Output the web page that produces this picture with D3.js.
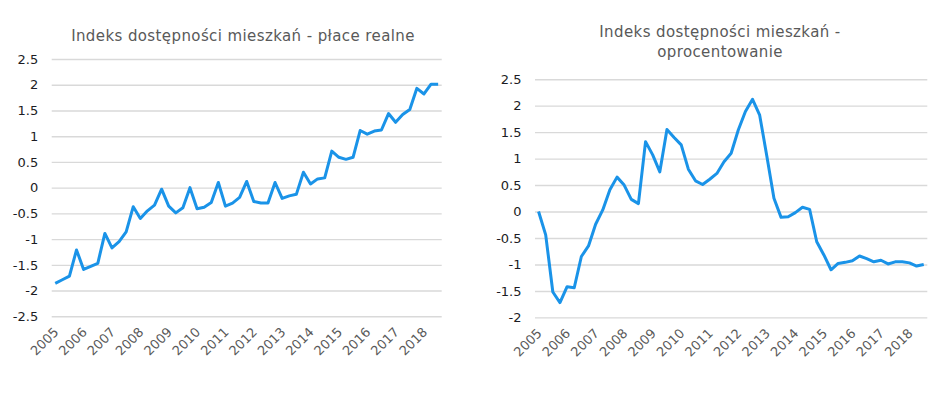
<!DOCTYPE html>
<html>
<head>
<meta charset="utf-8">
<script src="https://cdn.jsdelivr.net/npm/d3@7"></script>
<style>
  body { margin: 0; background: #fff; }
  text { font-family: "DejaVu Sans", Verdana, sans-serif; }
  .grid line { stroke: #d9d9d9; stroke-width: 1.4; }
  .ylab text { fill: #1c1c24; font-size: 13px; }
  .xlab text { fill: #595959; font-size: 13px; }
  .title { fill: #595959; font-size: 15px; letter-spacing: 0.4px; }
</style>
</head>
<body>
<script>
// quarterly data, 2005 Q1 - 2018 Q3
const years = ["2005", "2006", "2007", "2008", "2009", "2010", "2011",
    "2012", "2013", "2014", "2015", "2016", "2017", "2018"];
const quarters = ["Q1", "Q2", "Q3", "Q4"];

const placeRealne = [-1.86, -1.79, -1.72, -1.21, -1.59, -1.53, -1.47, -0.89, -1.17, -1.05,
    -0.86, -0.37, -0.60, -0.45, -0.34, -0.03, -0.36, -0.49, -0.39, 0.00,
    -0.41, -0.38, -0.29, 0.10, -0.36, -0.30, -0.19, 0.12, -0.27, -0.30,
    -0.30, 0.10, -0.21, -0.16, -0.13, 0.30, 0.07, 0.17, 0.19, 0.71,
    0.59, 0.55, 0.59, 1.11, 1.04, 1.10, 1.12, 1.44, 1.27, 1.42,
    1.52, 1.93, 1.82, 2.01, 2.01];

const oprocentowanie = [0.00, -0.44, -1.52, -1.72, -1.42, -1.44, -0.85, -0.65, -0.24, 0.03,
    0.41, 0.65, 0.50, 0.23, 0.15, 1.32, 1.07, 0.75, 1.55, 1.40,
    1.26, 0.80, 0.58, 0.51, 0.61, 0.72, 0.94, 1.10, 1.54, 1.89,
    2.12, 1.82, 1.05, 0.25, -0.11, -0.10, -0.02, 0.08, 0.04, -0.57,
    -0.82, -1.10, -0.98, -0.96, -0.93, -0.84, -0.89, -0.95, -0.92, -0.99,
    -0.95, -0.95, -0.97, -1.03, -1.00];

const ticksLeft = [2.5, 2, 1.5, 1, 0.5, 0, -0.5, -1, -1.5, -2, -2.5];
const ticksRight = [2.5, 2, 1.5, 1, 0.5, 0, -0.5, -1, -1.5, -2];

const categories = years.flatMap(y => quarters.map(q => y + " " + q)).slice(0, placeRealne.length);

const svg = d3.select("body").append("svg")
    .attr("width", 949)
    .attr("height", 397);

function drawChart(cfg) {
    const g = svg.append("g");

    const x = d3.scalePoint()
        .domain(categories)
        .range([cfg.left, cfg.right])
        .padding(0.5);

    const y = d3.scaleLinear()
        .domain([cfg.ticks[cfg.ticks.length - 1], cfg.ticks[0]])
        .range([cfg.bottom, cfg.top]);

    // gridlines + value labels
    g.append("g")
        .attr("class", "grid ylab")
        .attr("transform", "translate(" + cfg.left + ",0)")
        .call(d3.axisLeft(y)
            .tickValues(cfg.ticks)
            .tickSize(-(cfg.right - cfg.left))
            .tickPadding(13.5)
            .tickFormat(d => String(d)))
        .call(a => a.select(".domain").remove());

    // year labels, rotated
    const xAxis = g.append("g")
        .attr("class", "xlab")
        .attr("transform", "translate(0," + cfg.bottom + ")")
        .call(d3.axisBottom(x)
            .tickValues(categories.filter(c => c.endsWith("Q1")))
            .tickSize(0)
            .tickFormat(c => c.slice(0, 4)))
        .call(a => a.select(".domain").remove());

    xAxis.selectAll("text")
        .attr("text-anchor", "end")
        .attr("dy", "0.72em")
        .attr("transform", "translate(-3,10) rotate(-45)")
        .attr("y", 0);

    const line = d3.line()
        .x((d, i) => x(categories[i]))
        .y(d => y(d));

    g.append("path")
        .datum(cfg.values)
        .attr("fill", "none")
        .attr("stroke", "#1a93e8")
        .attr("stroke-width", 3)
        .attr("stroke-linejoin", "round")
        .attr("d", line);

    const title = g.append("text")
        .attr("class", "title")
        .attr("text-anchor", "middle");
    cfg.title.forEach((t, i) => {
        title.append("tspan")
            .attr("x", cfg.titleX)
            .attr("y", cfg.titleY + i * 20.5)
            .text(t);
    });
}

drawChart({
    values: placeRealne,
    ticks: ticksLeft,
    left: 51.7, right: 441.7, top: 59, bottom: 316.3,
    title: ["Indeks dostępności mieszkań - płace realne"],
    titleX: 243, titleY: 41
});

drawChart({
    values: oprocentowanie,
    ticks: ticksRight,
    left: 535, right: 927.3, top: 79.2, bottom: 317.4,
    title: ["Indeks dostępności mieszkań -", "oprocentowanie"],
    titleX: 720, titleY: 36.5
});
</script>
</body>
</html>
